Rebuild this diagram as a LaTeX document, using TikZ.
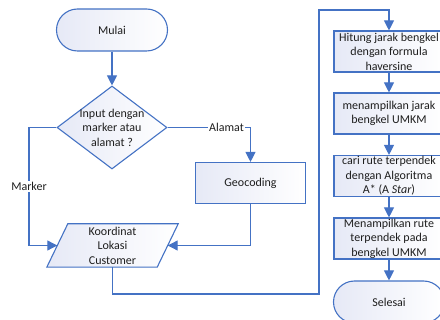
\documentclass[tikz,border=0pt]{standalone}
\usepackage{fontspec}
\setmainfont{Carlito}
\usetikzlibrary{arrows.meta,shapes.geometric,calc}
\definecolor{flowline}{HTML}{4472C4}
\definecolor{flowfill}{HTML}{E6E9F6}
\definecolor{flowtext}{HTML}{1E1E1E}
\tikzset{
  base/.style={draw=flowline, line width=1.1pt, left color=flowfill, right color=white,
    text=flowtext, align=center, font=\fontsize{12}{14.5}\selectfont, inner sep=0pt},
  terminal/.style={base, rectangle, rounded corners=21pt, minimum width=111pt, minimum height=42pt},
  process/.style={base, rectangle, minimum width=110pt, minimum height=41pt},
  decision/.style={base, diamond, minimum width=110pt, minimum height=83pt},
  iobox/.style={rectangle, minimum width=110pt, minimum height=43pt, align=center,
    text=flowtext, font=\fontsize{12}{14.5}\selectfont, inner sep=0pt},
  flow/.style={draw=flowline, line width=1.1pt},
  arrowflow/.style={flow, -{Triangle[length=10pt,width=10pt]}},
  edgelabel/.style={fill=white, text=flowtext, inner sep=1pt, font=\fontsize{12}{14.5}\selectfont}
}
\begin{document}
\begin{tikzpicture}[x=1pt,y=-1pt]
\useasboundingbox (0,0) rectangle (440,320);
\clip (0,0) rectangle (440,320);

% left column
\node[terminal] (mulai) at (112,30) {Mulai};
\node[decision] (dec) at (112,127.5) {};
\node[align=center, text=flowtext, font=\fontsize{12}{14.5}\selectfont] (dectext) at (112,127.5)
  {Input dengan\\marker atau\\alamat ?};
\node[process] (geo) at (250.5,183) {Geocoding};

% data (parallelogram) node
\node[iobox] (koor) at (112.5,245.5) {};
\path[draw=flowline, line width=1.1pt, left color=flowfill, right color=white]
  ($(koor.north west)+(10.5,0)$) -- ($(koor.north east)+(10.5,0)$)
  -- ($(koor.south east)+(-10.5,0)$) -- ($(koor.south west)+(-10.5,0)$) -- cycle;
\node[iobox] (koortext) at (koor) {Koordinat\\Lokasi\\Customer};

% right column
\node[process] (b1) at (389,51.5) {Hitung jarak bengkel\\dengan formula\\haversine};
\node[process] (b2) at (389,113.5) {menampilkan jarak\\bengkel UMKM};
\node[process] (b3) at (389,176) {cari rute terpendek\\dengan Algoritma\\A* (A \textit{Star})};
\node[process] (b4) at (389,238.5) {Menampilkan rute\\terpendek pada\\bengkel UMKM};
\node[terminal] (selesai) at (389,302) {Selesai};

% bend points
\coordinate (mk) at (29,127.5);
\coordinate (al) at (250.5,127.5);
\coordinate (lo) at (112.5,294);
\coordinate (lr) at (319,294);
\coordinate (hr) at (319,10);
\coordinate (ht) at (389,10);

% connectors
\draw[arrowflow] (mulai.south) -- (dec.north);
\draw[arrowflow] (dec.west) -- (mk) -- node[edgelabel, pos=0.5]{Marker} (mk |- koor.west) -- (koor.west);
\draw[arrowflow] (dec.east) -- node[edgelabel, pos=0.71]{Alamat} (al) -- (geo.north);
\draw[arrowflow] (geo.south) |- (koor.east);
\draw[arrowflow] (koor.south) -- (lo) -- (lr) -- (hr) -- (ht) -- (b1.north);
\draw[arrowflow] (b1.south) -- (b2.north);
\draw[arrowflow] (b2.south) -- (b3.north);
\draw[arrowflow] (b3.south) -- (b4.north);
\draw[arrowflow] (b4.south) -- (selesai.north);
\end{tikzpicture}
\end{document}
